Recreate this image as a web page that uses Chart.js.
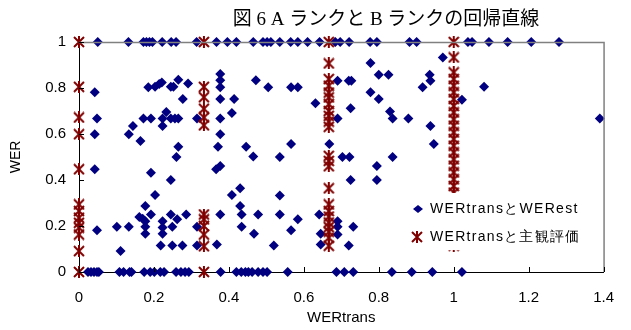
<!DOCTYPE html>
<html>
<head>
<meta charset="utf-8">
<script src="https://cdn.jsdelivr.net/npm/chart.js@4/dist/chart.umd.min.js"></script>
<style>
  html, body { margin: 0; padding: 0; background: #fff; }
  #wrap { width: 631px; height: 330px; }
</style>
</head>
<body>
<div id="wrap"><canvas id="wer_chart" width="631" height="330"></canvas></div>
<script>
// WERtrans と WERest (blue diamonds)
const blue_top_x = [0.050, 0.132, 0.172, 0.180, 0.188, 0.196, 0.222, 0.246, 0.259, 0.314, 0.367, 0.396, 0.420,
    0.465, 0.491, 0.502, 0.512, 0.536, 0.565, 0.584, 0.610, 0.642, 0.684, 0.697, 0.721, 0.777, 0.795, 0.882,
    0.901, 1.038, 1.049, 1.094, 1.144, 1.207, 1.281];
const blue_bottom_x = [0.024, 0.032, 0.040, 0.048, 0.053, 0.108, 0.119, 0.135, 0.140, 0.174, 0.190, 0.201, 0.217,
    0.227, 0.259, 0.272, 0.283, 0.293, 0.378, 0.420, 0.433, 0.444, 0.452, 0.462, 0.478, 0.491, 0.502, 0.557,
    0.687, 0.708, 0.732, 0.835, 0.888, 0.943, 1.022];
const blue_inner = [
    [0.042, 0.781], [0.185, 0.803], [0.203, 0.805], [0.214, 0.817], [0.221, 0.824], [0.245, 0.805], [0.252, 0.805],
    [0.265, 0.836], [0.291, 0.820], [0.277, 0.752], [0.048, 0.667], [0.172, 0.667], [0.192, 0.667], [0.223, 0.667],
    [0.233, 0.696], [0.245, 0.667], [0.256, 0.667], [0.265, 0.667], [0.223, 0.635], [0.144, 0.635], [0.315, 0.667],
    [0.042, 0.599], [0.133, 0.599], [0.164, 0.570], [0.265, 0.545], [0.260, 0.500], [0.042, 0.447], [0.192, 0.432],
    [0.245, 0.400], [0.203, 0.335], [0.177, 0.287], [0.192, 0.250], [0.161, 0.239], [0.170, 0.232], [0.177, 0.221],
    [0.245, 0.250], [0.262, 0.229], [0.286, 0.250], [0.048, 0.182], [0.101, 0.197], [0.133, 0.197], [0.177, 0.197],
    [0.177, 0.166], [0.223, 0.221], [0.223, 0.193], [0.223, 0.166], [0.249, 0.197], [0.315, 0.197], [0.218, 0.115],
    [0.249, 0.115], [0.276, 0.115], [0.315, 0.115], [0.111, 0.091], [0.368, 0.120], [0.377, 0.250], [0.434, 0.250],
    [0.434, 0.197], [0.467, 0.166], [0.408, 0.335], [0.430, 0.364], [0.430, 0.287], [0.366, 0.447], [0.377, 0.461],
    [0.465, 0.502], [0.377, 0.861], [0.377, 0.834], [0.377, 0.803], [0.472, 0.834], [0.505, 0.803], [0.566, 0.803],
    [0.584, 0.803], [0.377, 0.752], [0.414, 0.752], [0.631, 0.734], [0.408, 0.691], [0.377, 0.667], [0.377, 0.599],
    [0.371, 0.545], [0.446, 0.545], [0.566, 0.556], [0.536, 0.500], [0.536, 0.333], [0.478, 0.250], [0.536, 0.250],
    [0.584, 0.229], [0.641, 0.250], [0.566, 0.182], [0.520, 0.115], [0.645, 0.166], [0.645, 0.120], [0.971, 0.933],
    [0.778, 0.909], [0.800, 0.858], [0.826, 0.858], [0.936, 0.858], [0.938, 0.831], [0.917, 0.803], [0.690, 0.831],
    [0.720, 0.831], [0.727, 0.831], [0.778, 0.781], [0.800, 0.752], [0.725, 0.712], [0.830, 0.698], [0.837, 0.667],
    [0.879, 0.667], [0.690, 0.667], [0.938, 0.635], [0.947, 0.556], [0.668, 0.556], [0.703, 0.500], [0.722, 0.500],
    [0.837, 0.500], [0.795, 0.461], [0.725, 0.400], [0.795, 0.400], [0.690, 0.221], [0.690, 0.197], [0.690, 0.163],
    [0.732, 0.197], [0.720, 0.115], [1.022, 0.749], [1.081, 0.805], [1.390, 0.667]
];

// WERtrans と 主観評価 (red stars), one list per WERtrans value
const red_x_values = [0, 1 / 3, 2 / 3, 1];
const red_at_0 = [1.0, 0.805, 0.672, 0.599, 0.447, 0.294, 0.265, 0.236, 0.214, 0.193, 0.163, 0.091, 0.0];
const red_at_third = [1.0, 0.805, 0.76, 0.71, 0.672, 0.638, 0.25, 0.229, 0.2, 0.163, 0.112, 0.0];
const red_at_two_thirds = [1.0, 0.907, 0.839, 0.81, 0.78, 0.759, 0.73, 0.70, 0.679, 0.654, 0.631, 0.505, 0.483,
    0.46, 0.364, 0.294, 0.265, 0.241, 0.215, 0.195, 0.175, 0.149, 0.114];
const red_at_1 = [1.0, 0.933, 0.868, 0.839, 0.81, 0.781, 0.752, 0.722, 0.694, 0.664, 0.636, 0.607, 0.578, 0.549,
    0.52, 0.49, 0.462, 0.433, 0.403, 0.374, 0.345, 0.3, 0.25, 0.2, 0.15, 0.115];

const x_ticks = [0, 0.2, 0.4, 0.6, 0.8, 1, 1.2, 1.4];
const y_ticks = [0, 0.2, 0.4, 0.6, 0.8, 1];

const chart_title = "図 6 A ランクと B ランクの回帰直線";
const blue_label = "WERtransとWERest";
const red_label = "WERtransと主観評価";

const blue_points = []
    .concat(blue_top_x.map(x => ({ x: x, y: 1 })))
    .concat(blue_bottom_x.map(x => ({ x: x, y: 0 })))
    .concat(blue_inner.map(p => ({ x: p[0], y: p[1] })));

const red_points = [];
[red_at_0, red_at_third, red_at_two_thirds, red_at_1].forEach((ys, i) => {
    ys.forEach(y => red_points.push({ x: red_x_values[i], y: y }));
});

// Excel style star marker: an X with a vertical stroke
function make_star(size, color)
{
    const c = document.createElement("canvas");
    c.width = size;
    c.height = size;
    const g = c.getContext("2d");
    g.strokeStyle = color;
    g.lineWidth = 2;
    g.beginPath();
    g.moveTo(1, 1); g.lineTo(size - 1, size - 1);
    g.moveTo(size - 1, 1); g.lineTo(1, size - 1);
    g.moveTo(size / 2, 0); g.lineTo(size / 2, size);
    g.stroke();
    return c;
}
const star_img = make_star(12, "#800000");

const label_font = "'Liberation Sans', Arial, sans-serif";
const tick_text = v => String(Number(v.toFixed(2)));

// frame, inner tick marks, title and legend
const decor_plugin =
{
    id: "decor",
    afterDatasetsDraw(chart)
    {
        const ctx = chart.ctx;
        const a = chart.chartArea;
        const xs = chart.scales.x;
        const ys = chart.scales.y;
        ctx.save();

        ctx.strokeStyle = "#808080";
        ctx.lineWidth = 1.5;
        ctx.beginPath();
        ctx.moveTo(a.left, a.top + 0.5);
        ctx.lineTo(a.right + 0.5, a.top + 0.5);
        ctx.lineTo(a.right + 0.5, a.bottom);
        ctx.stroke();

        ctx.strokeStyle = "#000";
        ctx.lineWidth = 1;
        ctx.beginPath();
        x_ticks.forEach(v =>
        {
            const px = Math.round(xs.getPixelForValue(v)) + 0.5;
            ctx.moveTo(px, a.bottom);
            ctx.lineTo(px, a.bottom - 5);
        });
        y_ticks.forEach(v =>
        {
            const py = Math.round(ys.getPixelForValue(v)) + 0.5;
            ctx.moveTo(a.left, py);
            ctx.lineTo(a.left + 5, py);
        });
        ctx.stroke();

        // legend box over the plot
        const lx = a.left + 326;
        const ly = a.top + 151;
        ctx.fillStyle = "#fff";
        ctx.fillRect(lx, ly, 192, 57);

        ctx.fillStyle = "#000080";
        ctx.beginPath();
        ctx.moveTo(lx + 8, ly + 16);
        ctx.lineTo(lx + 13, ly + 12);
        ctx.lineTo(lx + 18, ly + 16);
        ctx.lineTo(lx + 13, ly + 20);
        ctx.closePath();
        ctx.fill();
        ctx.drawImage(star_img, lx + 6, ly + 38);

        ctx.fillStyle = "#000";
        ctx.font = "14px " + label_font;
        ctx.textBaseline = "middle";
        ctx.textAlign = "left";
        if ("letterSpacing" in ctx) ctx.letterSpacing = "1.3px";
        ctx.fillText(blue_label, lx + 25, ly + 16);
        ctx.fillText(red_label, lx + 25, ly + 44);

        ctx.letterSpacing = "0px";
        ctx.font = "19px 'Liberation Serif', 'Noto Sans CJK JP', serif";
        ctx.textAlign = "center";
        ctx.fillText(chart_title, 386, 20);
        ctx.restore();
    }
};

const wer_chart = new Chart("wer_chart",
{
    type: "scatter",
    data:
    {
        datasets:
        [
            {
                label: red_label,
                data: red_points,
                pointStyle: star_img,
                order: 0,
                clip: false
            },
            {
                label: blue_label,
                data: blue_points,
                pointStyle: "rectRot",
                pointRadius: 5,
                backgroundColor: "#000080",
                borderColor: "#000080",
                borderWidth: 0,
                order: 1,
                clip: false
            }
        ]
    },
    plugins: [decor_plugin],
    options:
    {
        animation: false,
        responsive: false,
        events: [],
        layout:
        {
            padding: { left: 8, right: 23, top: 42, bottom: 3 }
        },
        plugins:
        {
            legend: { display: false },
            title: { display: false },
            tooltip: { enabled: false }
        },
        scales:
        {
            x:
            {
                type: "linear",
                min: 0,
                max: 1.4,
                afterBuildTicks: s => { s.ticks = x_ticks.map(v => ({ value: v })); },
                afterFit: s => { s.height = 55; },
                grid: { display: false, drawTicks: false },
                border: { display: true, color: "#000", width: 1 },
                ticks:
                {
                    padding: 17,
                    color: "#000",
                    maxRotation: 0,
                    callback: tick_text,
                    font: { size: 15, family: label_font }
                },
                title:
                {
                    display: true,
                    text: "WERtrans",
                    color: "#000",
                    padding: { top: 0, bottom: 0 },
                    font: { size: 15, family: label_font }
                }
            },
            y:
            {
                min: 0,
                max: 1,
                afterBuildTicks: s => { s.ticks = y_ticks.map(v => ({ value: v })); },
                afterFit: s => { s.width = 71; },
                grid: { display: false, drawTicks: false },
                border: { display: true, color: "#000", width: 1 },
                ticks:
                {
                    padding: 13,
                    color: "#000",
                    callback: tick_text,
                    font: { size: 15, family: label_font }
                },
                title:
                {
                    display: true,
                    text: "WER",
                    color: "#000",
                    padding: { top: 0, bottom: 2 },
                    font: { size: 14, family: label_font }
                }
            }
        }
    }
});
</script>
</body>
</html>
